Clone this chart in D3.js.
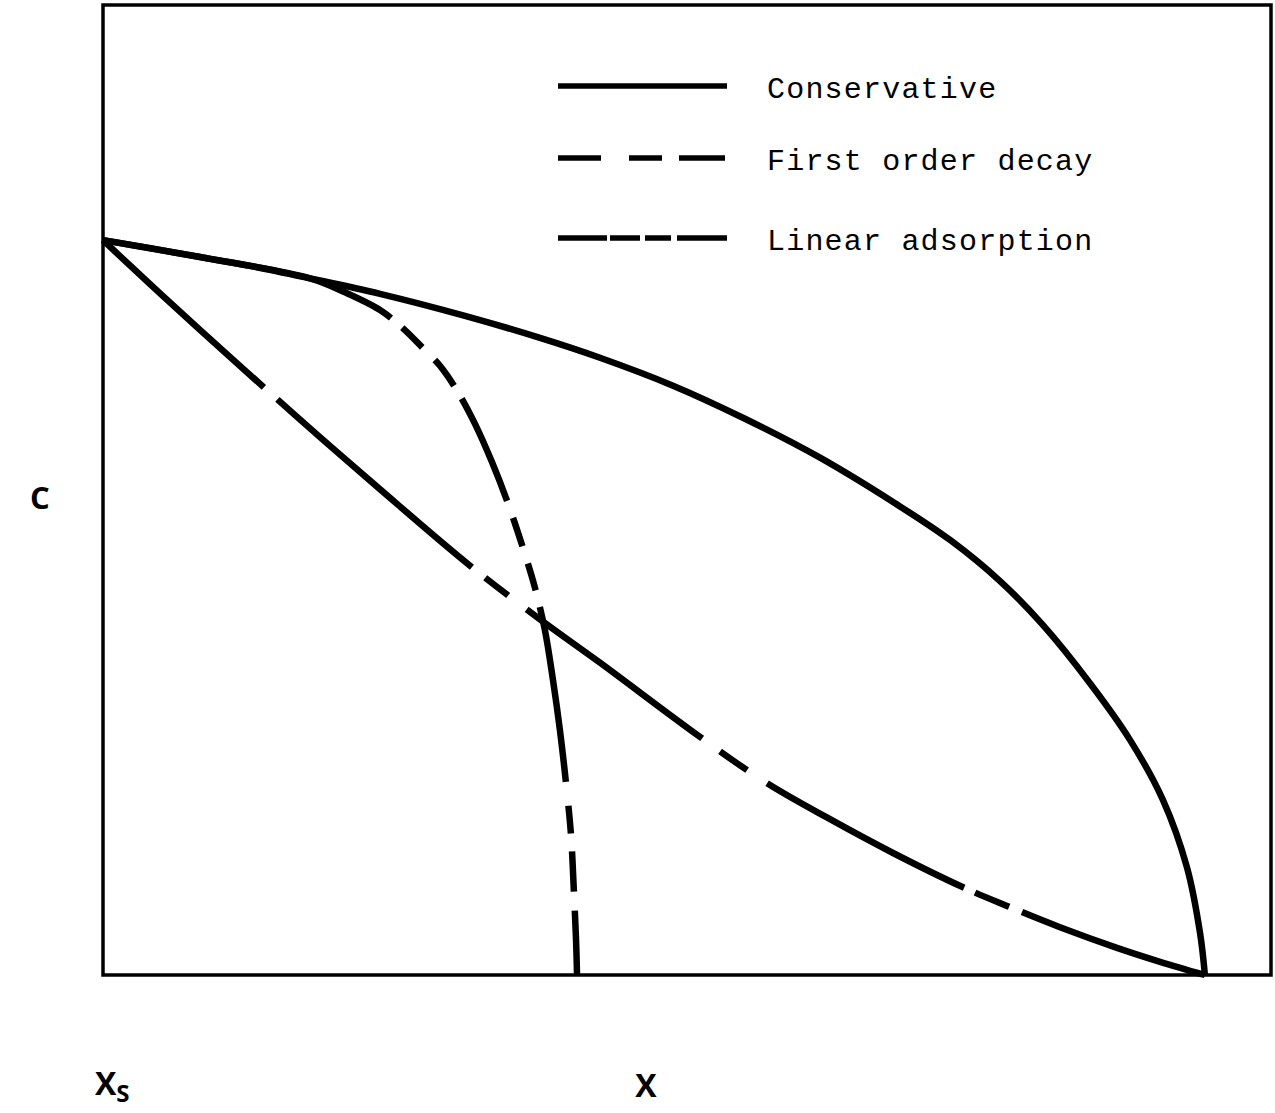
<!DOCTYPE html>
<html>
<head>
<meta charset="utf-8">
<script src="https://cdn.jsdelivr.net/npm/d3@7/dist/d3.min.js"></script>
<style>
  body { margin: 0; background: #fff; }
  svg { display: block; }
</style>
</head>
<body>
<svg id="chart" width="1275" height="1113"></svg>
<script>
// Concentration profiles C(x) downstream of the source at x = xs.
// Distance runs 0..10 (source to end of plume), concentration is C / C0.
const conservative = [
  [0.000, 1.000], [0.427, 0.989], [0.880, 0.977], [1.334, 0.965], [1.879, 0.948],
  [2.514, 0.927], [3.285, 0.897], [3.966, 0.867], [4.510, 0.840], [5.173, 0.802],
  [5.826, 0.757], [6.507, 0.704], [7.188, 0.642], [7.687, 0.592], [8.141, 0.536],
  [8.531, 0.476], [8.957, 0.397], [9.320, 0.320], [9.620, 0.238], [9.838, 0.146],
  [9.956, 0.057], [10.000, 0.000]
];

const firstOrderDecay = [
  [0.000, 1.000], [0.880, 0.977], [1.879, 0.948], [2.196, 0.929], [2.514, 0.905],
  [2.723, 0.880], [2.904, 0.853], [3.058, 0.829], [3.222, 0.793], [3.376, 0.750],
  [3.530, 0.698], [3.675, 0.642], [3.803, 0.585], [3.920, 0.527], [4.011, 0.469],
  [4.084, 0.401], [4.147, 0.333], [4.202, 0.261], [4.247, 0.191], [4.274, 0.112],
  [4.293, 0.048], [4.302, 0.000]
];

const linearAdsorption = [
  [0.000, 1.000], [0.427, 0.940], [0.880, 0.878], [1.443, 0.802], [1.969, 0.732],
  [2.514, 0.661], [3.331, 0.557], [3.966, 0.484], [4.510, 0.425], [5.418, 0.324],
  [6.026, 0.261], [6.598, 0.212], [7.170, 0.166], [7.796, 0.120], [8.204, 0.094],
  [8.685, 0.065], [9.202, 0.037], [9.593, 0.018], [10.000, 0.000]
];

const seriesNames = ["Conservative", "First order decay", "Linear adsorption"];
const xDomain = [0, 10.6];
const cDomain = [0, 1.32];
const yLabel = "C";
const sourceLabel = ["X", "S"];
const xLabel = "X";

const svg = d3.select("#chart");

const x = d3.scaleLinear().domain(xDomain).range([103, 1271]);
const y = d3.scaleLinear().domain(cDomain).range([975, 5]);

const line = d3.line()
  .x(d => x(d[0]))
  .y(d => y(d[1]))
  .curve(d3.curveCatmullRom.alpha(0.5));

// Series styles: solid, long/short dashes, long-short dash chain
const styles = [
  { data: conservative, dash: null, legendDash: null },
  { data: firstOrderDecay,
    dash: "301,15,28,18,32,15,112,18,30,18,28,17,177,24,28,18,40,19,90",
    legendDash: "43,28,33,17,46" },
  { data: linearAdsorption,
    dash: "218,18,257,17,29,23,218,22,33,24,223,12,37,14,240",
    legendDash: "49,3,30,5,26,6,54" }
];

// Curves (drawn under the frame so the ends sit on the axes)
const draw = [styles[2], styles[1], styles[0]];
svg.append("g").selectAll("path")
  .data(draw)
  .join("path")
  .attr("d", s => line(s.data))
  .attr("fill", "none")
  .attr("stroke", "#000")
  .attr("stroke-width", 6.5)
  .attr("stroke-linecap", "butt")
  .attr("stroke-linejoin", "round")
  .attr("stroke-dasharray", s => s.dash);

// Plot frame
svg.append("rect")
  .attr("x", x(xDomain[0]))
  .attr("y", y(cDomain[1]))
  .attr("width", x(xDomain[1]) - x(xDomain[0]))
  .attr("height", y(cDomain[0]) - y(cDomain[1]))
  .attr("fill", "none")
  .attr("stroke", "#000")
  .attr("stroke-width", 3.5);

// Legend
const legendRows = [86, 158, 238];
const legend = svg.append("g");
styles.forEach((s, i) => {
  const ly = legendRows[i];
  legend.append("line")
    .attr("x1", 558).attr("x2", 727)
    .attr("y1", ly).attr("y2", ly)
    .attr("stroke", "#000")
    .attr("stroke-width", 5.5)
    .attr("stroke-dasharray", s.legendDash);
  legend.append("text")
    .attr("x", 767)
    .attr("y", ly + 12)
    .attr("font-family", "'Courier New', 'Liberation Mono', monospace")
    .attr("font-size", 30)
    .attr("letter-spacing", 1.2)
    .attr("fill", "#000")
    .text(seriesNames[i]);
});

// Axis labels
const labelFont = "'Open Sans', 'DejaVu Sans', sans-serif";
svg.append("text")
  .attr("x", 40).attr("y", 509)
  .attr("text-anchor", "middle")
  .attr("font-family", labelFont)
  .attr("font-weight", 700)
  .attr("font-size", 31)
  .text(yLabel);

const src = svg.append("text")
  .attr("x", 95).attr("y", 1095)
  .attr("font-family", labelFont)
  .attr("font-weight", 700)
  .attr("font-size", 32);
src.append("tspan").text(sourceLabel[0]);
src.append("tspan")
  .attr("dy", 7)
  .attr("font-size", 24)
  .text(sourceLabel[1]);

svg.append("text")
  .attr("x", 646).attr("y", 1097)
  .attr("text-anchor", "middle")
  .attr("font-family", labelFont)
  .attr("font-weight", 700)
  .attr("font-size", 32)
  .text(xLabel);
</script>
</body>
</html>
